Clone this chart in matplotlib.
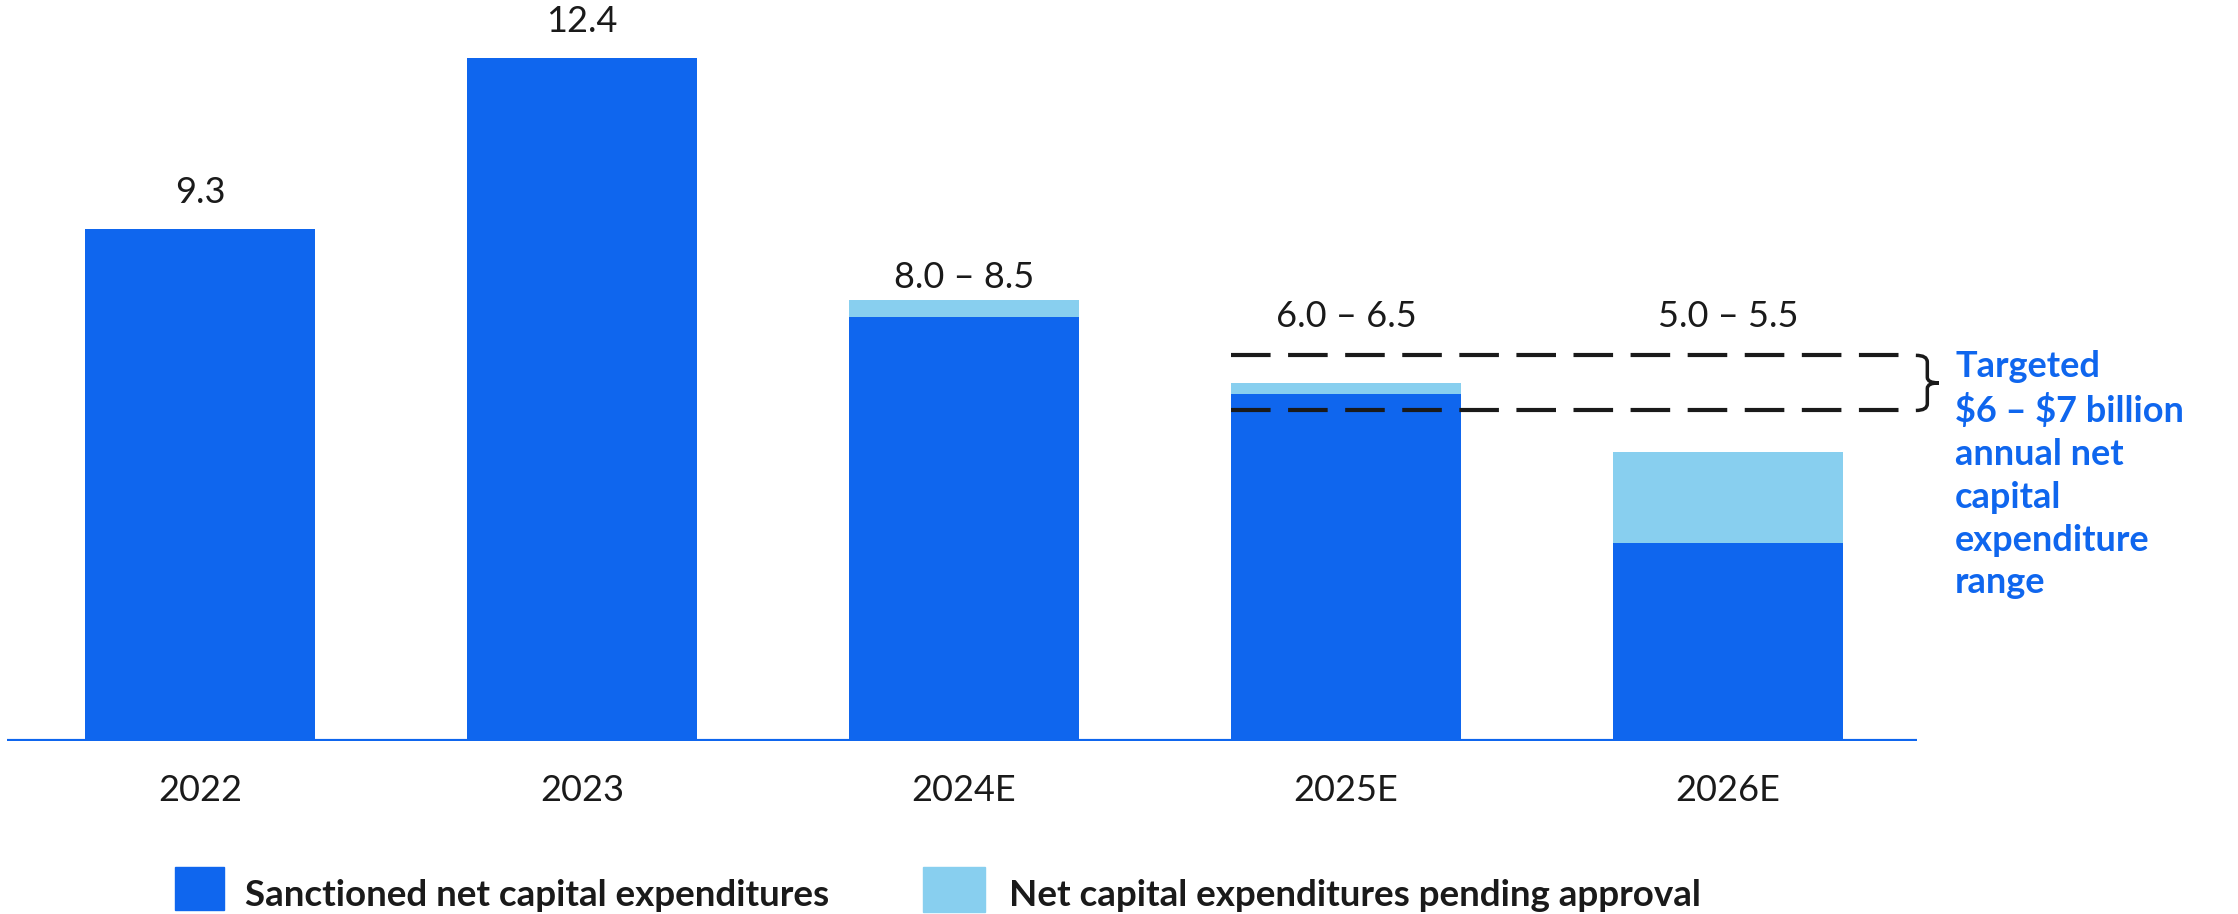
import numpy as np
import matplotlib.pyplot as plt
from matplotlib.path import Path
from matplotlib.patches import PathPatch, Rectangle

plt.rcParams['font.family'] = ['Lato', 'DejaVu Sans']

years = ['2022', '2023', '2024E', '2025E', '2026E']
sanctioned = [9.3, 12.4, 7.7, 6.3, 3.6]
pending = [0.0, 0.0, 0.3, 0.2, 1.65]
labels = ['9.3', '12.4', '8.0 – 8.5', '6.0 – 6.5', '5.0 – 5.5']
target_low, target_high = 6, 7
note = 'Targeted\n\\$6 – \\$7 billion\nannual net\ncapital\nexpenditure\nrange'

dark = '#0F66EE'
light = '#88CFEF'
ink = '#1a1a1a'

fig = plt.figure(figsize=(22.38, 9.14), dpi=100)
ax = fig.add_axes([7 / 2238, (914 - 741) / 914, 1910 / 2238, 741 / 914])

x = np.arange(len(years))
ax.bar(x, sanctioned, width=0.6, color=dark, zorder=2)
ax.bar(x, pending, width=0.6, bottom=sanctioned, color=light, zorder=2)

ax.set_xlim(-0.505, 4.495)
ax.set_ylim(0, 13.45)

tops = np.array(sanctioned) + np.array(pending)
for i, lab in enumerate(labels):
    if '–' in lab:
        y = tops[i] + 0.42 if tops[i] > target_high else target_high + 0.7
    else:
        y = tops[i] + 0.66
    ax.text(x[i], y, lab, ha='center', va='center', fontsize=26, color=ink)

# target range dashed lines
for yv in (target_low, target_high):
    ax.plot([2.7, 4.48], [yv, yv], color=ink, lw=3, dashes=(9.5, 4.2),
            zorder=3, solid_capstyle='butt')

# brace
x0, xm, xt = 4.492, 4.522, 4.552
ym = (target_low + target_high) / 2
verts = [(x0, target_high), (xm, target_high), (xm, target_high - 0.12),
         (xm, ym + 0.1), (xm, ym), (xt, ym),
         (xm, ym), (xm, ym - 0.1),
         (xm, target_low + 0.12), (xm, target_low), (x0, target_low)]
codes = [Path.MOVETO, Path.CURVE3, Path.CURVE3,
         Path.LINETO, Path.CURVE3, Path.CURVE3,
         Path.CURVE3, Path.CURVE3,
         Path.LINETO, Path.CURVE3, Path.CURVE3]
ax.add_patch(PathPatch(Path(verts, codes), fill=False, lw=2.5,
                       edgecolor=ink, clip_on=False))

fig.text(1955 / 2238, 1 - 350 / 914, note, ha='left', va='top', fontsize=26,
         fontweight='bold', color=dark, linespacing=1.36)

# baseline
ax.axhline(0, color=dark, lw=3, zorder=3)
for s in ax.spines.values():
    s.set_visible(False)
ax.set_yticks([])
ax.set_xticks(x)
ax.set_xticklabels(years, fontsize=26, color=ink)
ax.tick_params(axis='x', length=0, pad=24)

# legend
fig.patches.append(Rectangle((175 / 2238, 1 - 910 / 914), 49 / 2238, 43 / 914,
                             transform=fig.transFigure, color=dark))
fig.text(245 / 2238, 1 - 895 / 914, 'Sanctioned net capital expenditures',
         ha='left', va='center', fontsize=26.5, fontweight='bold', color=ink)
fig.patches.append(Rectangle((923 / 2238, 1 - 912 / 914), 62 / 2238, 45 / 914,
                             transform=fig.transFigure, color=light))
fig.text(1009 / 2238, 1 - 895 / 914, 'Net capital expenditures pending approval',
         ha='left', va='center', fontsize=26.5, fontweight='bold', color=ink)

plt.savefig('out.png', dpi=100)
plt.close(fig)
